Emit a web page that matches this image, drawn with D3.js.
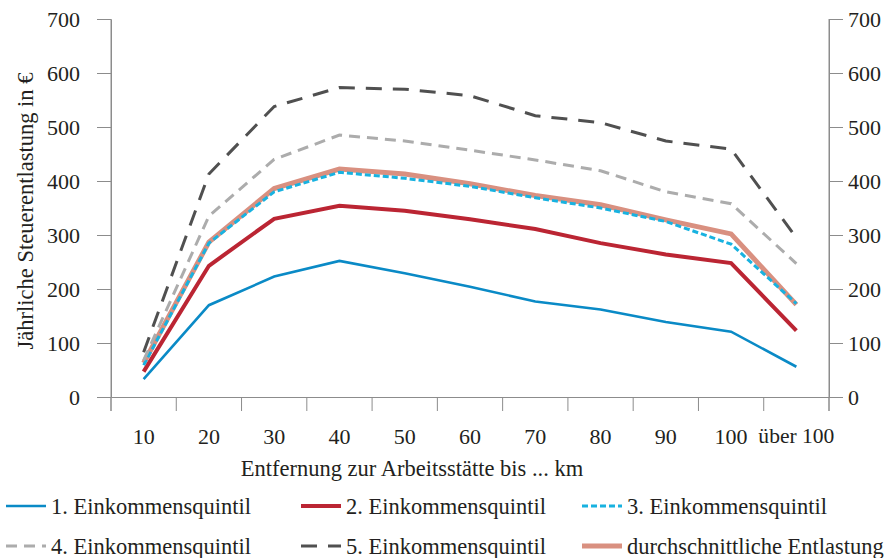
<!DOCTYPE html>
<html><head><meta charset="utf-8">
<style>
html,body{margin:0;padding:0;background:#fff;}
</style>
<script src="https://cdn.jsdelivr.net/npm/d3@7"></script>
</head>
<body>
<svg id="c" width="892" height="558" font-family="Liberation Serif"></svg>
<script>
const categories = ["10","20","30","40","50","60","70","80","90","100","über 100"];
const q1 = [33, 170, 223, 252, 229, 204, 177, 162, 139, 121, 56];
const q2 = [47, 243, 330, 354, 345, 329, 311, 285, 264, 248, 123];
const q3 = [59, 285, 380, 416, 405, 390, 369, 350, 325, 283, 173];
const q4 = [68, 335, 440, 485, 474, 457, 439, 419, 380, 358, 247];
const q5 = [83, 413, 538, 573, 570, 558, 521, 508, 474, 459, 295];
const avg = [63, 287, 386, 422, 413, 395, 373, 356, 328, 302, 171];
const yTicks = [0,100,200,300,400,500,600,700];
const seriesNames = ["1. Einkommensquintil","2. Einkommensquintil","3. Einkommensquintil","4. Einkommensquintil","5. Einkommensquintil","durchschnittliche Entlastung"];

const styles = [
  {color:"#0a8ac6", width:2.6, dash:null},
  {color:"#bb2533", width:4, dash:null},
  {color:"#18b2e0", width:3, dash:"6,3"},
  {color:"#acacac", width:3, dash:"11,7"},
  {color:"#505050", width:3, dash:"16,11"},
  {color:"#d99080", width:5, dash:null}
];
const data = [q1,q2,q3,q4,q5,avg];

const svg = d3.select("#c");
const x = d3.scaleBand().domain(categories).range([111, 829]).padding(0);
const y = d3.scaleLinear().domain([0,700]).range([397, 19]);
const axisColor = "#8c8c8c";
const textColor = "#231f20";
const fs = 22.5;

function txt(sel, size){
  const s = size || fs;
  sel.attr("font-size",s).attr("font-family","Liberation Serif").attr("fill",textColor);
  sel.each(function(){ this.style.setProperty("font-family","'Liberation Serif', 'Times New Roman'","important"); });
  return sel;
}
function fit(sel, maxW){
  sel.each(function(){
    const w = this.getComputedTextLength();
    const cur = +this.getAttribute("font-size");
    if (w > maxW) this.setAttribute("font-size", (cur*maxW/w).toFixed(2));
  });
  return sel;
}

const gl = svg.append("g").attr("transform","translate(111,0)")
  .call(d3.axisLeft(y).tickValues(yTicks).tickSize(14).tickPadding(17).tickSizeOuter(0));
const gr = svg.append("g").attr("transform","translate(829,0)")
  .call(d3.axisRight(y).tickValues(yTicks).tickSize(14).tickPadding(5).tickSizeOuter(0));
const gx = svg.append("g").attr("transform","translate(0,397)")
  .call(d3.axisBottom(x).tickSize(0).tickPadding(31).tickSizeOuter(0));
const edges = categories.map(c => x(c)).concat([x.range()[1]]);
svg.append("g").selectAll("line").data(edges).join("line")
  .attr("x1", d=>d).attr("x2", d=>d).attr("y1",397).attr("y2",411)
  .attr("stroke", axisColor).attr("stroke-width",1);
svg.append("line").attr("x1",111).attr("x2",111).attr("y1",19).attr("y2",411).attr("stroke",axisColor);
svg.append("line").attr("x1",829).attr("x2",829).attr("y1",19).attr("y2",411).attr("stroke",axisColor);

[gl,gr,gx].forEach(g=>{
  g.attr("font-family", null).attr("font-size", null);
  g.selectAll(".domain").attr("stroke",axisColor);
  g.selectAll(".tick line").attr("stroke",axisColor);
  txt(g.selectAll("text"), 22);
});
fit(gx.selectAll("text"), 76);

const line = d3.line().x((d,i)=>x(categories[i]) + x.bandwidth()/2).y(d=>y(d));
const order = [5,0,1,2,3,4];
order.forEach(k=>{
  svg.append("path").datum(data[k]).attr("d", line)
    .attr("fill","none").attr("stroke", styles[k].color)
    .attr("stroke-width", styles[k].width)
    .attr("stroke-dasharray", styles[k].dash)
    .attr("stroke-linejoin","miter");
});

fit(txt(svg.append("text").attr("transform","translate(33,211) rotate(-90)")
  .attr("text-anchor","middle"))
  .text("Jährliche Steuerentlastung in €"), 330);
fit(txt(svg.append("text").attr("x",412).attr("y",476)
  .attr("text-anchor","middle"))
  .text("Entfernung zur Arbeitsstätte bis ... km"), 355);

const legX = [6, 301, 582];
const legY = [506, 546];
seriesNames.forEach((n,i)=>{
  const cx = legX[i%3], cy = legY[Math.floor(i/3)];
  svg.append("line").attr("x1",cx).attr("x2",cx+40).attr("y1",cy).attr("y2",cy)
    .attr("stroke",styles[i].color).attr("stroke-width",styles[i].width)
    .attr("stroke-dasharray",styles[i].dash);
  fit(txt(svg.append("text").attr("x",cx+45).attr("y",cy+8)).text(n), i===5 ? 262 : 205);
});
</script>
</body></html>
